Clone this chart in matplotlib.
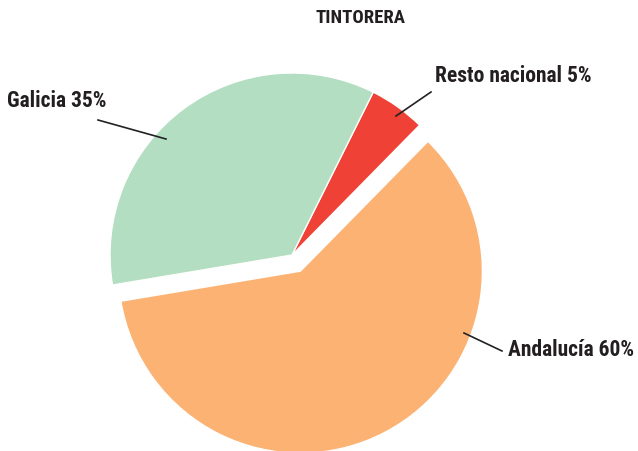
import matplotlib.pyplot as plt

# datos
regiones = ['Andalucía', 'Resto nacional', 'Galicia']
porcentajes = [60, 5, 35]
colores = ['#fbb273', '#ef4136', '#b3dec2']
separacion = [0.1, 0, 0]

plt.rcParams['font.family'] = ['Roboto Condensed', 'DejaVu Sans']

W, H = 638, 451
R = 182
fig = plt.figure(figsize=(W / 100, H / 100), dpi=100)
ax = fig.add_axes([0, 0, 1, 1])

# el eje usa coordenadas en pixeles (y hacia arriba)
ax.pie(porcentajes, colors=colores, explode=[s * R for s in separacion],
       startangle=189.5, counterclock=True, radius=R, center=(292, H - 255),
       wedgeprops=dict(edgecolor='white', linewidth=1))
ax.set_xlim(0, W)
ax.set_ylim(0, H)
ax.set_aspect('equal')
ax.axis('off')

# etiquetas con linea
etiquetas = [
    (f'{regiones[2]} {porcentajes[2]}%', (166, 139), (98, 120), (7, 101)),
    (f'{regiones[1]} {porcentajes[1]}%', (396, 116), (431, 92), (435, 76)),
    (f'{regiones[0]} {porcentajes[0]}%', (464, 333), (502, 351), (508, 350)),
]
for txt, p0, p1, pt in etiquetas:
    ax.plot([p0[0], p1[0]], [H - p0[1], H - p1[1]], color='#222222', lw=1.2)
    ax.text(pt[0], H - pt[1], txt, fontsize=15.5, fontweight='bold',
            color='#231f20', ha='left', va='center')

ax.text(361, H - 18, 'TINTORERA', fontsize=13.5, fontweight='bold',
        color='#231f20', ha='center', va='center')

fig.savefig('out.png', dpi=100)
